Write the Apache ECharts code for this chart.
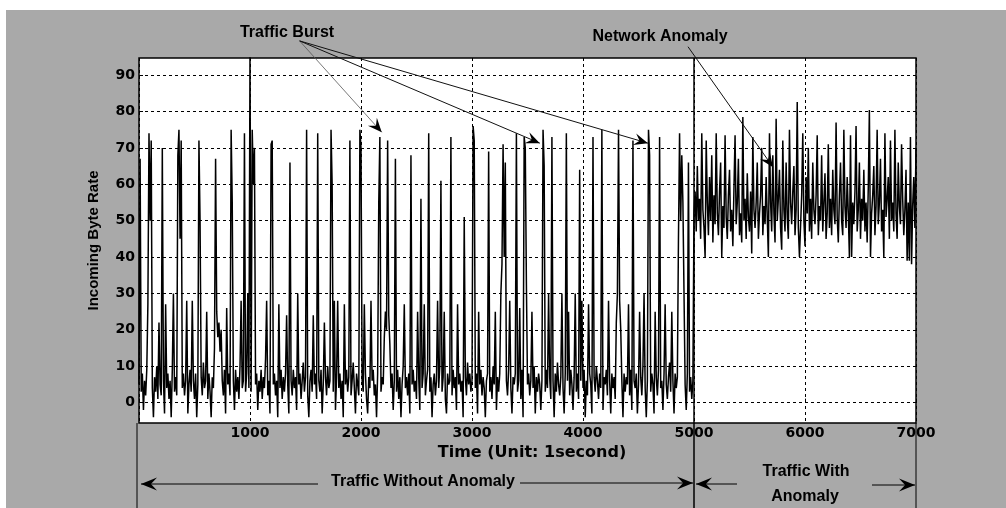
<!DOCTYPE html>
<html>
<head>
<meta charset="utf-8">
<script src="https://cdn.jsdelivr.net/npm/echarts@6/dist/echarts.min.js"></script>
<style>
html,body{margin:0;padding:0;background:#fff;}
#chart{width:1006px;height:508px;}
</style>
</head>
<body>
<div id="chart"></div>
<script>
// ---------- DATA ----------
const xTicks = [0, 1000, 2000, 3000, 4000, 5000, 6000, 7000];
const yTicks = [0, 10, 20, 30, 40, 50, 60, 70, 80, 90];
const stepSec = 10;          // one value every 10 seconds
const startA = 0;            // traffic without anomaly
const startB = 5000;         // traffic with anomaly

const rateA = [
 5,67,3,8,-2,6,2,9,27,74,50,72,4,-4,7,3,10,1,22,5,
 2,70,6,-3,27,4,8,1,6,-4,9,30,3,7,2,68,75,45,72,4,
 8,2,6,28,-3,5,9,3,28,6,1,8,-4,5,72,50,7,2,11,4,
 6,25,1,8,3,-4,7,4,15,67,25,18,22,14,20,6,2,9,-3,26,
 5,8,2,75,55,6,-2,9,3,7,1,10,28,4,6,74,3,8,30,4,
 96,3,75,60,70,5,8,-2,6,3,9,1,7,4,12,28,2,6,-3,71,
 72,5,8,2,6,-4,27,4,9,1,7,3,8,24,5,-3,66,6,2,9,
 4,7,-2,30,5,8,1,6,11,3,7,75,2,-4,6,9,3,24,5,8,
 1,74,6,3,9,-3,5,22,7,2,10,4,6,75,60,3,28,-2,7,28,
 4,8,1,6,-4,27,5,9,3,7,72,2,6,11,4,-3,8,5,2,75,
 70,6,3,27,8,1,-3,7,4,28,6,9,2,5,-4,8,55,73,3,7,
 5,18,25,20,72,24,16,4,8,-2,6,67,3,9,1,7,-4,5,10,27,
 4,7,2,8,-3,68,5,9,3,6,1,25,7,-2,56,4,8,27,2,6,
 9,74,3,7,-4,5,8,2,6,28,4,10,61,3,7,25,1,-3,8,5,
 6,73,2,9,4,7,-2,27,5,8,3,6,-4,51,7,2,11,5,8,3,
 6,76,72,4,8,-3,25,5,9,2,7,4,-4,6,8,69,3,7,1,10,
 5,25,-2,7,3,8,30,38,71,40,66,6,2,9,28,4,-3,7,5,8,
 74,3,6,26,1,9,-4,73,70,33,5,8,2,6,25,4,10,-3,7,3,
 8,5,-2,6,75,65,3,9,4,30,7,1,73,6,-4,8,3,11,5,2,
 7,30,4,-3,8,74,6,25,2,9,5,-2,7,30,3,8,1,64,6,28,
 4,9,-4,6,2,27,8,5,-3,73,7,3,10,6,1,8,4,75,-2,7,
 5,9,2,28,6,-3,8,4,7,1,22,30,75,28,20,6,-4,8,3,7,
 5,27,2,9,-2,72,6,4,8,-3,5,25,7,2,10,30,4,-4,6,75,
 68,3,8,5,-3,25,7,2,9,73,4,6,-2,8,27,5,1,7,11,3,
 25,6,-3,8,4,7,45,74,50,68,55,30,5,-2,8,66,3,7,1,6
];

const rateB = [
 52,58,47,65,50,56,45,74,53,48,40,72,55,46,62,50,68,44,57,49,
 74,52,46,58,66,40,54,48,73.5,51,45,57,64,47,53,43,59,73.5,49,55,
 67,46,52,44,78.5,50,56,45,63,51,47,58,41,73,53,48,55,66,45,52,
 57,70,46,54,49,62,51,40,74,55,47,68,52,44,78,50,56,64,48,42,
 72,53,47,66,51,45,75,55,49,58,65,46,53,82.6,48,40,40,57,74,50,
 43,62,52,70,47,56,45,66,53,49,57,73.5,46,54,50,68,47,55,63,45,
 52,71,48,56,46,64,53,49,77,51,44,57,66,50,46,75,54,48,62,52,
 40,73.5,40,55,49,58,76,47,53,66,45,56,50,64,47,55,44,59,80.4,40,
 52,57,65,46,54,75,49,55,67,47,53,40,74,51,56,62,45,72,50,55,
 47,75,52,45,66,54,49,71,56,46,53,64,39,55,39,73,38,54,62,48,
 70
];

// ---------- BUILD SERIES ----------
const seriesData = [];
rateA.forEach((v, i) => seriesData.push([startA + i * stepSec, v]));
rateB.forEach((v, i) => seriesData.push([startB + i * stepSec, v]));

const tickFont = { fontFamily: 'DejaVu Sans', fontWeight: 'bold', fontSize: 14, color: '#000' };
const annFont = 'bold 16px "Liberation Sans", Arial, sans-serif';

const chart = echarts.init(document.getElementById('chart'), null, { renderer: 'canvas' });

chart.setOption({
  animation: false,
  backgroundColor: '#a9a9a9',
  grid: {
    show: true, left: 139, right: 90, top: 58, bottom: 85,
    backgroundColor: '#ffffff', borderColor: '#000', borderWidth: 1.5
  },
  xAxis: {
    type: 'value', min: 0, max: 7000, interval: 1000,
    name: 'Time (Unit: 1second)', nameLocation: 'middle', nameGap: 16,
    nameTextStyle: { fontFamily: 'DejaVu Sans', fontWeight: 'bold', fontSize: 16, color: '#000', padding: [0, 0, 0, 9] },
    axisLine: { show: false },
    axisTick: { show: true, inside: true, length: 4, lineStyle: { color: '#000' } },
    axisLabel: Object.assign({ margin: 3, formatter: v => (v === 0 ? '' : String(v)) }, tickFont),
    splitLine: { show: true, lineStyle: { color: '#000', width: 1, type: [3, 3] } }
  },
  yAxis: {
    type: 'value', min: -5.6, max: 94.7,
    name: 'Incoming Byte Rate', nameLocation: 'middle', nameGap: 38,
    nameTextStyle: { fontFamily: '"Liberation Sans", Arial, sans-serif', fontWeight: 'bold', fontSize: 15, color: '#000' },
    axisLine: { show: false },
    axisTick: { show: true, inside: true, length: 4, customValues: yTicks, lineStyle: { color: '#000' } },
    axisLabel: Object.assign({ margin: 4, customValues: yTicks }, tickFont),
    splitLine: { show: false }
  },
  series: [{
    type: 'line',
    data: seriesData,
    symbol: 'none',
    sampling: null,
    lineStyle: { color: '#000', width: 1.5 },
    clip: true,
    markLine: {
      silent: true, symbol: 'none', label: { show: false },
      lineStyle: { color: '#000', width: 1, type: [3, 3] },
      data: yTicks.map(v => ({ yAxis: v }))
    },
    z: 3
  }]
});

// ---------- ANNOTATIONS (anchored in data space) ----------
const px = (t, v) => chart.convertToPixel({ gridIndex: 0 }, [t, v]);

function arrowHead(tip, from, len, halfW) {
  const dx = tip[0] - from[0], dy = tip[1] - from[1];
  const d = Math.hypot(dx, dy), ux = dx / d, uy = dy / d, nx = -uy, ny = ux;
  const bx = tip[0] - ux * len, by = tip[1] - uy * len;
  const cx = tip[0] - ux * len * 0.62, cy = tip[1] - uy * len * 0.62;
  return [tip, [bx + nx * halfW, by + ny * halfW], [cx, cy], [bx - nx * halfW, by - ny * halfW]];
}

const g = [];
// white margins of the scanned page
g.push({ type: 'rect', shape: { x: 0, y: 0, width: 1006, height: 10 }, style: { fill: '#fff' }, z: 0 });
g.push({ type: 'rect', shape: { x: 0, y: 0, width: 6, height: 508 }, style: { fill: '#fff' }, z: 0 });

// Traffic Burst arrows
const tbStart = px(1447, 99.4);
const tbTips = [[2187, 74.3, '#555', 0.8], [3611, 71.3, '#111', 1], [4585, 71.3, '#111', 1]];
tbTips.forEach(([t, v, col, w]) => {
  const tip = px(t, v);
  g.push({ type: 'line', shape: { x1: tbStart[0], y1: tbStart[1], x2: tip[0], y2: tip[1] }, style: { stroke: col, lineWidth: w }, z: 20 });
  g.push({ type: 'polygon', shape: { points: arrowHead(tip, tbStart, 14, 6) }, style: { fill: '#000' }, z: 21 });
});
g.push({ type: 'text', x: 287, y: 33, style: { text: 'Traffic Burst', font: annFont, fill: '#000', align: 'center', verticalAlign: 'middle' }, z: 22 });

// Network Anomaly arrow
const naStart = px(4946, 97.8), naTip = px(5712, 64.7);
g.push({ type: 'line', shape: { x1: naStart[0], y1: naStart[1], x2: naTip[0], y2: naTip[1] }, style: { stroke: '#111', lineWidth: 1 }, z: 20 });
g.push({ type: 'polygon', shape: { points: arrowHead(naTip, naStart, 14, 6) }, style: { fill: '#000' }, z: 21 });
g.push({ type: 'text', x: 660, y: 37, style: { text: 'Network Anomaly', font: annFont, fill: '#000', align: 'center', verticalAlign: 'middle' }, z: 22 });

// section dividers
const top5000 = px(5000, 94.7), bot0 = px(0, -5.6), bot7000 = px(7000, -5.6);
g.push({ type: 'line', shape: { x1: top5000[0], y1: top5000[1], x2: top5000[0], y2: 508 }, style: { stroke: '#000', lineWidth: 1.5 }, z: 20 });
g.push({ type: 'line', shape: { x1: bot0[0] - 2, y1: bot0[1], x2: bot0[0] - 2, y2: 508 }, style: { stroke: '#000', lineWidth: 1 }, z: 20 });
g.push({ type: 'line', shape: { x1: bot7000[0], y1: bot7000[1], x2: bot7000[0], y2: 508 }, style: { stroke: '#000', lineWidth: 1 }, z: 20 });

// bottom span arrows
const yA = 483;
const xL = bot0[0] + 2, x5 = top5000[0], x7 = bot7000[0];
function hArrow(xFrom, xTip, y) {
  g.push({ type: 'line', shape: { x1: xFrom, y1: y, x2: xTip, y2: y }, style: { stroke: '#000', lineWidth: 1 }, z: 20 });
  g.push({ type: 'polygon', shape: { points: arrowHead([xTip, y], [xFrom, y], 16, 6.5) }, style: { fill: '#000' }, z: 21 });
}
hArrow(318, xL, yA + 1);
hArrow(520, x5 - 1, yA);
hArrow(737, x5 + 2, yA + 1);
hArrow(872, x7 - 1, yA + 2);
g.push({ type: 'text', x: 423, y: 482, style: { text: 'Traffic Without Anomaly', font: annFont, fill: '#000', align: 'center', verticalAlign: 'middle' }, z: 22 });
g.push({ type: 'text', x: 806, y: 472, style: { text: 'Traffic With', font: annFont, fill: '#000', align: 'center', verticalAlign: 'middle' }, z: 22 });
g.push({ type: 'text', x: 805, y: 497, style: { text: 'Anomaly', font: annFont, fill: '#000', align: 'center', verticalAlign: 'middle' }, z: 22 });

chart.setOption({ graphic: g });
</script>
</body>
</html>
